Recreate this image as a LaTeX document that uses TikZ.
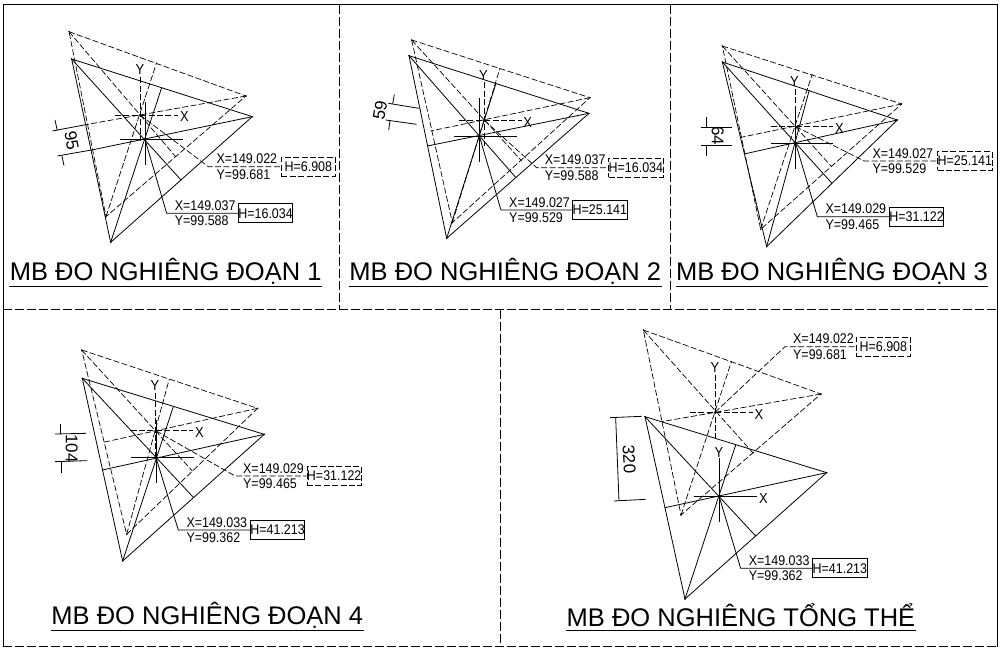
\documentclass[tikz,border=0pt]{standalone}
\usepackage{fontspec}
\setmainfont{Liberation Sans}
\newfontfamily\cadfont[FakeStretch=0.89]{Liberation Sans}
\tikzset{
  solidline/.style={line width=0.8pt},
  dashline/.style={line width=0.7pt,dash pattern=on 6pt off 2.4pt},
  framedash/.style={line width=0.8pt,dash pattern=on 9pt off 3pt},
  panel/.style 2 args={x=0.3333pt,y=-0.3333pt,shift={(#1pt,-#2pt)}},
  valtext/.style={font=\cadfont\fontsize{14}{14}\selectfont,inner sep=0pt,anchor=west},
  hbox/.style={draw,font=\cadfont\fontsize{14}{14}\selectfont,inner sep=0pt,minimum width=54pt,minimum height=19pt,anchor=west},
  axistext/.style={font=\cadfont\fontsize{14.5}{14.5}\selectfont,inner sep=0pt},
  dimtext/.style={font=\fontsize{17}{17}\selectfont,inner sep=0pt},
  titletext/.style={font=\fontsize{25.5}{25.5}\selectfont,inner sep=0pt,anchor=center},
  titleline/.style={line width=0.9pt},
}
% name, style, A, B, C, centre, foot of A, foot of B, foot of C
\newcommand{\triset}[9]{
  \coordinate (#1a) at (#3);
  \coordinate (#1b) at (#4);
  \coordinate (#1c) at (#5);
  \coordinate (#1o) at (#6);
  \coordinate (#1fa) at (#7);
  \coordinate (#1fb) at (#8);
  \coordinate (#1fc) at (#9);
  \path (#1o) ++(-75,0) coordinate (#1xl) ++(188,0) coordinate (#1xr);
  \path (#1o) ++(0,-113) coordinate (#1yt) ++(0,190) coordinate (#1yb);
  \draw[#2] (#1a) -- (#1b) -- (#1c) -- cycle;
  \draw[#2] (#1a) -- (#1fa);
  \draw[#2] (#1b) -- (#1fb);
  \draw[#2] (#1c) -- (#1fc);
  \draw[#2] (#1xl) -- (#1xr);
  \draw[#2] (#1yt) -- (#1yb);
  \fill (#1a) circle (0.8pt) (#1b) circle (0.8pt) (#1c) circle (0.8pt) (#1o) circle (1.1pt);
}
% name, style, elbow, box position, X, Y, H
\newcommand{\leaderset}[7]{
  \coordinate (#1e) at (#3);
  \node[hbox,#2] (#1h) at (#4) {H=#7};
  \node[valtext] (#1x) at ([shift={(24,-23)}]#1e) {X=#5};
  \node[valtext] (#1y) at ([shift={(24,23)}]#1e) {Y=#6};
  \draw[#2] (#1o) -- (#1e) -- (#1h.west);
}
\begin{document}
\begin{tikzpicture}[x=1pt,y=-1pt]
  \useasboundingbox (0,0) rectangle (1003,649);

  \draw[line width=1pt] (3,647) -- (3,4.5) -- (997,4.5) -- (997,647);
  \draw[framedash] (339,4.5) -- (339,309);
  \draw[framedash] (670.5,4.5) -- (670.5,309);
  \draw[framedash] (3,309.5) -- (997,309.5);
  \draw[framedash] (500,309.5) -- (500,647);
  \draw[framedash] (3,646.5) -- (997,646.5);

  \begin{scope}[panel={0}{0}]
    \triset{p}{dashline}{207,95}{738,288}{318,650}{420,345}{527,470}{263,373}{470,188}
    \triset{q}{solidline}{215,177}{757,350}{332,727}{435,418}{543,540}{275,450}{485,263}
    \node[axistext] (pxt) at (553,350) {X};
    \node[axistext] (pyt) at (420,210) {Y};
    \leaderset{p}{dashline}{625,500}{843,500}{149.022}{99.681}{6.908}
    \leaderset{q}{solidline}{500,640}{714,640}{149.037}{99.588}{16.034}
    \coordinate (e1) at (157,393);
    \coordinate (e2) at (172,468);
    \draw[solidline] (pfb) -- (e1);
    \draw[solidline] (qfb) -- (e2);
    \draw[solidline] (165,360) -- (172,392);
    \draw[solidline] (186,468) -- (192,497);
    \node[dimtext,rotate=-80] (dim) at (215,422) {95};
    \node[titletext] (title) at (497,815) {MB ĐO NGHIÊNG ĐOẠN 1};
    \draw[titleline] (27,860) -- (965,860);
  \end{scope}

  \begin{scope}[panel={340}{0}]
    \triset{p}{dashline}{215,120}{750,293}{337,668}{432,360}{545,483}{272,393}{480,205}
    \triset{q}{solidline}{207,167}{747,340}{320,715}{418,408}{527,532}{262,438}{468,250}
    \node[axistext] (pxt) at (563,368) {X};
    \node[axistext] (pyt) at (430,227) {Y};
    \leaderset{p}{dashline}{590,503}{805,503}{149.037}{99.588}{16.034}
    \leaderset{q}{solidline}{483,630}{697,630}{149.027}{99.529}{25.141}
    \draw[solidline] (145,310) -- (237,325);
    \draw[solidline] (137,360) -- (230,373);
    \draw[solidline] (163,283) -- (158,312);
    \draw[solidline] (150,363) -- (146,390);
    \node[dimtext,rotate=80] (dim) at (120,330) {59};
    \node[titletext] (title) at (496,815) {MB ĐO NGHIÊNG ĐOẠN 2};
    \draw[titleline] (27,860) -- (965,860);
  \end{scope}

  \begin{scope}[panel={670}{0}]
    \triset{p}{dashline}{157,138}{695,312}{272,688}{377,380}{485,500}{213,412}{427,222}
    \triset{q}{solidline}{157,186}{682,360}{290,740}{377,430}{486,550}{222,462}{418,270}
    \node[axistext] (pxt) at (508,385) {X};
    \node[axistext] (pyt) at (373,245) {Y};
    \leaderset{p}{dashline}{583,483}{802,483}{149.027}{99.529}{25.141}
    \leaderset{q}{solidline}{442,650}{657,650}{149.029}{99.465}{31.122}
    \draw[solidline] (92,383) -- (187,383);
    \draw[solidline] (92,435) -- (187,435);
    \draw[solidline] (108,352) -- (108,383);
    \draw[solidline] (108,435) -- (108,467);
    \node[dimtext,rotate=-90] (dim) at (143,408) {64};
    \node[titletext] (title) at (486,815) {MB ĐO NGHIÊNG ĐOẠN 3};
    \draw[titleline] (17,860) -- (955,860);
  \end{scope}

  \begin{scope}[panel={0}{310}]
    \triset{p}{dashline}{245,120}{773,295}{380,673}{467,362}{577,483}{310,397}{508,207}
    \triset{q}{solidline}{247,205}{793,373}{368,753}{468,443}{580,562}{307,480}{520,290}
    \node[axistext] (pxt) at (598,368) {X};
    \node[axistext] (pyt) at (465,227) {Y};
    \leaderset{p}{dashline}{705,498}{920,498}{149.029}{99.465}{31.122}
    \leaderset{q}{solidline}{535,660}{750,660}{149.033}{99.362}{41.213}
    \draw[solidline] (165,372) -- (258,370);
    \draw[solidline] (165,455) -- (262,452);
    \draw[solidline] (180,343) -- (180,372);
    \draw[solidline] (183,455) -- (183,490);
    \node[dimtext,rotate=-90] (dim) at (215,415) {104};
    \node[titletext] (title) at (622,915) {MB ĐO NGHIÊNG ĐOẠN 4};
    \draw[titleline] (153,960) -- (1092,960);
  \end{scope}

  \begin{scope}[panel={560}{310}]
    \triset{p}{dashline}{250,60}{783,252}{363,615}{465,307}{580,430}{305,335}{515,153}
    \triset{q}{solidline}{255,320}{800,488}{375,867}{477,558}{587,678}{315,593}{527,405}
    \node[axistext] (pxt) at (597,315) {X};
    \node[axistext] (pyt) at (465,173) {Y};
    \node[axistext] (qxt) at (610,567) {X};
    \node[axistext] (qyt) at (477,427) {Y};
    \leaderset{p}{dashline}{675,110}{888,110}{149.022}{99.681}{6.908}
    \leaderset{q}{solidline}{542,775}{757,775}{149.033}{99.362}{41.213}
    \draw[solidline] (150,323) -- (245,319);
    \draw[solidline] (162,573) -- (257,568);
    \draw[solidline] (167,323) -- (177,573);
    \node[dimtext,rotate=-87] (dim) at (208,447) {320};
    \node[titletext] (title) at (543,915) {MB ĐO NGHIÊNG TỔNG THỂ};
    \draw[titleline] (18,960) -- (1067,960);
  \end{scope}
\end{tikzpicture}
\end{document}
